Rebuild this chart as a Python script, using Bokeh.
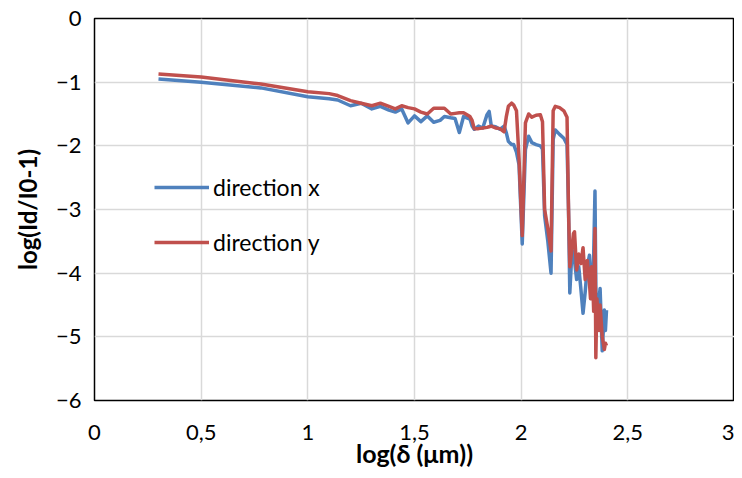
from bokeh.plotting import figure
from bokeh.models import FixedTicker, Range1d, Legend, LegendItem, ColumnDataSource, Title
from bokeh.embed import file_html
from bokeh.resources import INLINE

# ---- data ----
log_delta = [0.30, 0.50, 0.78, 1.00, 1.10, 1.14, 1.20, 1.25, 1.30, 1.34,
             1.38, 1.41, 1.44, 1.47, 1.50, 1.53, 1.56, 1.59, 1.62, 1.64,
             1.67, 1.69, 1.71, 1.73, 1.76, 1.77, 1.78, 1.80, 1.82, 1.84,
             1.85, 1.86, 1.88, 1.90, 1.92, 1.93, 1.94, 1.955, 1.965, 1.978,
             1.99, 2.005, 2.02, 2.035, 2.05, 2.07, 2.09, 2.10, 2.11, 2.125,
             2.14, 2.15, 2.16, 2.18, 2.20, 2.215, 2.222, 2.228, 2.235, 2.245,
             2.25, 2.26, 2.27, 2.28, 2.29, 2.30, 2.31, 2.32, 2.325, 2.33,
             2.336, 2.34, 2.346, 2.35, 2.355, 2.365, 2.37, 2.38, 2.39, 2.395,
             2.40]
direction_x = [-0.95, -1.00, -1.09, -1.23, -1.26, -1.28, -1.37, -1.33, -1.42, -1.38,
               -1.44, -1.47, -1.42, -1.64, -1.53, -1.62, -1.53, -1.63, -1.60, -1.54,
               -1.56, -1.57, -1.79, -1.54, -1.58, -1.69, -1.74, -1.69, -1.72, -1.51,
               -1.46, -1.69, -1.70, -1.74, -1.69, -1.79, -1.93, -1.98, -1.98, -2.10,
               -2.30, -3.54, -2.06, -1.85, -1.95, -1.98, -2.00, -2.05, -3.10, -3.50,
               -4.00, -1.90, -1.75, -1.82, -1.88, -1.98, -3.00, -4.31, -3.85, -3.65,
               -3.80, -4.10, -3.90, -4.25, -4.63, -4.30, -3.90, -3.72, -4.10, -4.35,
               -4.00, -3.70, -2.71, -4.20, -4.80, -4.40, -4.24, -5.22, -4.58, -4.90,
               -4.58]
direction_y = [-0.87, -0.92, -1.03, -1.15, -1.18, -1.21, -1.29, -1.33, -1.37, -1.33,
               -1.38, -1.42, -1.37, -1.40, -1.42, -1.47, -1.50, -1.41, -1.41, -1.41,
               -1.50, -1.49, -1.48, -1.48, -1.54, -1.60, -1.73, -1.73, -1.72, -1.71,
               -1.70, -1.69, -1.72, -1.73, -1.78, -1.55, -1.38, -1.33, -1.36, -1.45,
               -2.20, -3.41, -1.64, -1.50, -1.55, -1.52, -1.51, -1.62, -3.00, -3.30,
               -3.65, -1.45, -1.38, -1.40, -1.45, -1.55, -3.00, -3.90, -3.70, -3.38,
               -3.35, -3.95, -3.70, -3.85, -3.60, -4.10, -3.80, -4.15, -4.40, -3.90,
               -4.20, -4.60, -3.30, -5.33, -4.40, -4.90, -4.50, -5.00, -5.20, -5.10,
               -5.14]
x_ticks = [0, 0.5, 1, 1.5, 2, 2.5, 3]
x_tick_labels = ["0", "0,5", "1", "1,5", "2", "2,5", "3"]
y_ticks = [-6, -5, -4, -3, -2, -1, 0]
x_title = "log(δ (μm))"
y_title = "log(Id/I0-1)"

FONT = "Lato"
BLUE = "#4F81BD"
RED = "#C0504D"

src = ColumnDataSource(dict(x=log_delta, bx=direction_x, ry=direction_y))

p = figure(width=734, height=470, output_backend="svg", toolbar_location=None,
           x_range=Range1d(0, 3), y_range=Range1d(-6, 0),
           min_border_left=93, min_border_right=0, min_border_top=18,
           min_border_bottom=70)
p.background_fill_color = "white"
p.border_fill_color = "white"
p.outline_line_color = "black"
p.outline_line_width = 1.5

p.xaxis.ticker = FixedTicker(ticks=x_ticks)
p.yaxis.ticker = FixedTicker(ticks=y_ticks)
p.xaxis.major_label_overrides = {t: l for t, l in zip(x_ticks, x_tick_labels)}
p.xgrid.ticker = FixedTicker(ticks=x_ticks)
p.ygrid.ticker = FixedTicker(ticks=y_ticks)
for g in (p.xgrid, p.ygrid):
    g.grid_line_color = "#d9d9d9"
    g.grid_line_width = 1.5

for ax in (p.xaxis, p.yaxis):
    ax.axis_line_color = None
    ax.major_tick_line_color = None
    ax.minor_tick_line_color = None
    ax.major_tick_out = 0
    ax.major_tick_in = 0
    ax.major_label_text_font = FONT
    ax.major_label_text_font_size = "22px"
    ax.major_label_text_color = "#000000"

p.xaxis.major_label_standoff = 24
p.yaxis.major_label_standoff = 13

p.xaxis.axis_label = x_title
p.xaxis.axis_label_text_font = FONT
p.xaxis.axis_label_text_font_size = "25px"
p.xaxis.axis_label_text_font_style = "bold"
p.xaxis.axis_label_text_color = "#000000"
p.xaxis.axis_label_standoff = -5

ytitle = Title(text=y_title, align="center", offset=22, standoff=21,
               text_font=FONT, text_font_size="24px", text_font_style="bold",
               text_color="#000000")
p.add_layout(ytitle, "left")

rb = p.line("x", "bx", source=src, line_color=BLUE, line_width=3.5, line_join="round")
rr = p.line("x", "ry", source=src, line_color=RED, line_width=3.5, line_join="round")

legend = Legend(items=[LegendItem(label="direction x", renderers=[rb]),
                       LegendItem(label="direction y", renderers=[rr])],
                location=(60, 144))
legend.border_line_color = None
legend.background_fill_alpha = 0
legend.padding = 0
legend.margin = 0
legend.glyph_width = 55
legend.glyph_height = 22
legend.label_height = 22
legend.spacing = 27
legend.label_standoff = 4
legend.label_text_font = FONT
legend.label_text_font_size = "23px"
legend.label_text_color = "#000000"
p.add_layout(legend, "center")

open("out.html", "w").write(file_html(p, INLINE))
